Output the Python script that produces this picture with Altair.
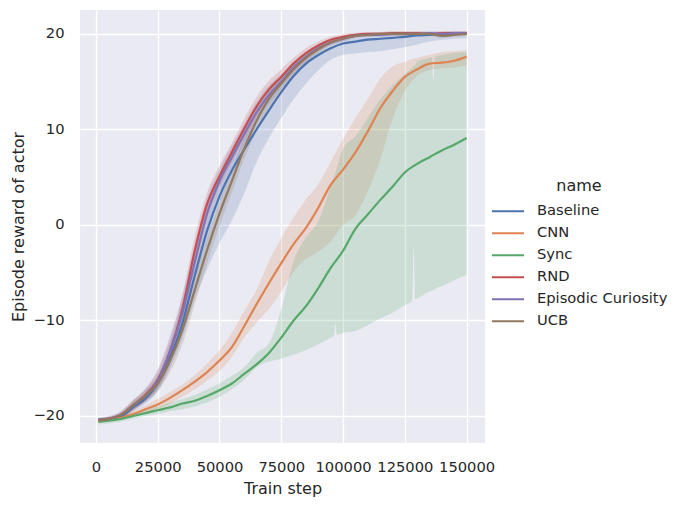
import altair as alt
import pandas as pd

names = ["Baseline", "CNN", "Sync", "RND", "Episodic Curiosity", "UCB"]
colors = ["#4c72b0", "#dd8452", "#55a868", "#c44e52", "#8172b3", "#937860"]

steps = [1000, 5000, 10000, 15000, 20000, 25000, 30000, 35000, 40000, 45000,
         50000, 55000, 60000, 65000, 70000, 75000, 80000, 85000, 90000, 95000,
         100000, 105000, 110000, 115000, 120000, 125000, 130000, 135000, 140000,
         145000, 150000]

baseline_mean = [-20.4, -20.35, -20.1, -19.1, -18.2, -16.6, -13.9, -10.3, -5.3, -0.6, 3.0,
                 5.7, 7.9, 10.0, 12.0, 13.9, 15.6, 16.9, 17.8, 18.5, 19.0, 19.2, 19.4,
                 19.5, 19.6, 19.7, 19.85, 19.9, 20.0, 20.0, 20.0]
baseline_lo = [-20.6, -20.5, -20.3, -19.5, -18.7, -17.4, -15.0, -11.8, -7.8, -4.6, -1.9,
               0.5, 3.3, 6.6, 9.1, 11.2, 13.2, 14.8, 16.2, 17.3, 17.8, 17.95, 18.1,
               18.2, 18.4, 18.6, 18.9, 19.2, 19.4, 19.5, 19.55]
baseline_hi = [-20.2, -20.1, -19.8, -18.6, -17.6, -15.8, -12.4, -8.0, -2.4, 2.0, 5.4,
               7.9, 10.2, 12.4, 14.2, 15.6, 17.0, 18.0, 18.8, 19.3, 19.6, 19.7, 19.8,
               19.9, 20.0, 20.0, 20.1, 20.1, 20.2, 20.2, 20.2]

cnn_mean = [-20.5, -20.4, -20.2, -19.8, -19.3, -18.8, -18.1, -17.3, -16.4, -15.4, -14.2,
            -12.8, -10.6, -8.3, -6.1, -4.0, -2.0, -0.3, 1.8, 4.2, 5.8, 7.6, 9.8,
            12.2, 14.0, 15.5, 16.3, 16.9, 17.0, 17.2, 17.6]
cnn_lo = [-20.7, -20.6, -20.4, -20.1, -19.7, -19.3, -18.7, -18.0, -17.2, -16.3, -15.3,
          -13.8, -11.8, -10.2, -8.8, -7.0, -4.9, -3.6, -2.8, -1.7, 0.0, 1.0, 3.5,
          6.8, 11.1, 14.0, 15.6, 16.2, 16.4, 16.5, 16.7]
cnn_hi = [-20.2, -20.1, -19.9, -19.4, -18.9, -18.2, -17.5, -16.7, -15.7, -14.5, -13.1,
          -11.3, -9.0, -6.8, -3.8, -1.4, 0.8, 2.7, 4.3, 6.6, 9.0, 11.2, 13.2,
          15.3, 16.6, 17.1, 17.5, 17.8, 18.1, 18.2, 18.3]

sync_mean = [-20.6, -20.5, -20.3, -20.0, -19.7, -19.4, -19.1, -18.7, -18.4, -17.9, -17.3,
             -16.6, -15.6, -14.6, -13.4, -11.8, -10.0, -8.5, -6.6, -4.5, -2.7, -0.4, 1.1,
             2.6, 4.0, 5.5, 6.4, 7.1, 7.8, 8.4, 9.1]
sync_band_steps = [1000, 5000, 10000, 15000, 20000, 25000, 30000, 35000, 40000, 45000,
                   50000, 55000, 60000, 65000, 70000, 75000, 80000, 85000, 90000, 95000,
                   96300, 96900, 97500, 100000, 105000, 110000, 115000, 120000, 125000,
                   128000, 128600, 129200, 130000, 135000, 136000, 136600, 137200,
                   140000, 145000, 150000]
sync_lo = [-20.9, -20.8, -20.6, -20.3, -20.0, -19.8, -19.5, -19.3, -19.0, -18.6,
           -18.0, -17.2, -16.2, -14.9, -14.3, -14.0, -13.6, -13.1, -12.5, -11.8,
           -11.6, -10.3, -11.5, -11.3, -11.1, -10.5, -9.8, -9.2, -8.4,
           -8.0, -2.3, -7.8, -7.7, -7.0, -6.9, -6.8, -6.7,
           -6.4, -5.8, -5.2]
sync_hi = [-20.3, -20.2, -20.0, -19.7, -19.3, -19.0, -18.6, -18.2, -17.8, -17.2,
           -16.6, -15.8, -14.9, -13.4, -12.4, -8.8, -3.8, -1.3, 0.4, 4.0,
           5.0, 5.5, 6.0, 8.0, 9.3, 11.2, 13.1, 14.6, 15.8,
           16.5, 16.6, 16.8, 17.1, 17.5, 17.6, 15.2, 17.6,
           17.8, 18.0, 18.1]

rnd_mean = [-20.4, -20.3, -19.9, -18.9, -17.8, -16.2, -13.2, -8.8, -2.7, 2.2, 5.1,
            7.6, 10.1, 12.4, 14.2, 15.5, 16.9, 18.0, 18.8, 19.4, 19.7, 19.9, 20.0,
            20.0, 20.1, 20.1, 20.1, 20.0, 20.1, 20.1, 20.1]
rnd_lo = [-20.6, -20.5, -20.2, -19.4, -18.4, -17.1, -14.5, -10.3, -4.2, 1.0, 4.0,
          6.6, 9.1, 11.4, 13.3, 14.7, 16.3, 17.5, 18.4, 19.1, 19.4, 19.7, 19.8,
          19.8, 19.9, 19.9, 19.9, 19.8, 19.9, 19.9, 19.9]
rnd_hi = [-20.2, -20.1, -19.6, -18.4, -17.2, -15.3, -11.9, -7.3, -1.2, 3.4, 6.2,
          8.6, 11.1, 13.4, 15.1, 16.3, 17.5, 18.5, 19.2, 19.7, 20.0, 20.1, 20.2,
          20.2, 20.3, 20.3, 20.3, 20.2, 20.3, 20.3, 20.3]

ec_mean = [-20.4, -20.3, -19.9, -18.9, -17.9, -16.3, -13.2, -9.2, -3.9, 1.2, 4.6,
           7.1, 9.5, 11.8, 13.6, 15.0, 16.5, 17.6, 18.5, 19.1, 19.5, 19.8, 19.9,
           19.9, 20.0, 20.0, 20.0, 20.1, 20.0, 20.1, 20.1]
ec_lo = [-20.6, -20.5, -20.2, -19.4, -18.5, -17.2, -14.6, -10.8, -5.6, -0.3, 3.4,
         6.0, 8.4, 10.8, 12.7, 14.3, 15.9, 17.1, 18.1, 18.8, 19.2, 19.6, 19.7,
         19.7, 19.8, 19.8, 19.8, 19.9, 19.8, 19.9, 19.9]
ec_hi = [-20.2, -20.0, -19.5, -18.3, -17.1, -15.1, -11.6, -7.4, -2.0, 2.8, 5.9,
         8.3, 10.6, 12.9, 14.6, 15.8, 17.1, 18.1, 18.9, 19.4, 19.8, 20.0, 20.1,
         20.1, 20.2, 20.2, 20.2, 20.3, 20.2, 20.3, 20.3]

ucb_mean = [-20.5, -20.3, -19.9, -18.9, -17.9, -16.6, -14.2, -11.0, -6.8, -2.6, 1.2,
            4.6, 8.0, 10.9, 13.2, 14.8, 16.3, 17.5, 18.4, 19.1, 19.5, 19.8, 19.9,
            20.0, 20.0, 20.0, 20.0, 20.0, 19.8, 19.9, 20.0]
ucb_lo = [-20.7, -20.5, -20.2, -19.4, -18.5, -17.4, -15.4, -12.5, -8.3, -4.0, -0.1,
          3.4, 6.9, 9.9, 12.3, 14.1, 15.7, 17.0, 18.0, 18.8, 19.2, 19.6, 19.7,
          19.8, 19.8, 19.8, 19.8, 19.8, 19.6, 19.7, 19.8]
ucb_hi = [-20.3, -20.1, -19.6, -18.4, -17.3, -15.8, -13.0, -9.5, -5.3, -1.2, 2.5,
          5.8, 9.1, 11.9, 14.1, 15.5, 16.9, 18.0, 18.8, 19.4, 19.8, 20.0, 20.1,
          20.2, 20.2, 20.2, 20.2, 20.2, 20.0, 20.1, 20.2]

x_ticks = [0, 25000, 50000, 75000, 100000, 125000, 150000]
y_ticks = [-20, -10, 0, 10, 20]

means = {"Baseline": baseline_mean, "CNN": cnn_mean, "Sync": sync_mean,
         "RND": rnd_mean, "Episodic Curiosity": ec_mean, "UCB": ucb_mean}
bands = {"Baseline": (steps, baseline_lo, baseline_hi),
         "CNN": (steps, cnn_lo, cnn_hi),
         "Sync": (sync_band_steps, sync_lo, sync_hi),
         "RND": (steps, rnd_lo, rnd_hi),
         "Episodic Curiosity": (steps, ec_lo, ec_hi),
         "UCB": (steps, ucb_lo, ucb_hi)}

line_rows = []
band_rows = []
for i, n in enumerate(names):
    for s, v in zip(steps, means[n]):
        line_rows.append({"name": n, "order": i, "step": s, "reward": v})
    bs, lo, hi = bands[n]
    for s, a, b in zip(bs, lo, hi):
        band_rows.append({"name": n, "order": i, "step": s, "lo": a, "hi": b})
lines_df = pd.DataFrame(line_rows)
bands_df = pd.DataFrame(band_rows)

FONT = "DejaVu Sans"
TXT = "#262626"

color_scale = alt.Scale(domain=names, range=colors)
x_enc = alt.X("step:Q",
              scale=alt.Scale(domain=[-6450, 157450], nice=False, zero=False),
              axis=alt.Axis(values=x_ticks, format="d", title="Train step",
                            labelPadding=16, titleY=50, titleBaseline="alphabetic"))
y_scale = alt.Scale(domain=[-22.83, 22.51], nice=False, zero=False)
y_axis = alt.Axis(values=y_ticks, title="Episode reward of actor",
                  labelExpr="replace(format(datum.value, 'd'), '-', '\u2212')",
                  labelPadding=16, titleX=-62, titleY=216.5, titleBaseline="middle",
                  titleAlign="center", titleAngle=270)

band = alt.Chart(bands_df).mark_area(opacity=0.2, interpolate="monotone").encode(
    x=x_enc,
    y=alt.Y("lo:Q", scale=y_scale, axis=y_axis),
    y2="hi:Q",
    color=alt.Color("name:N", scale=color_scale, legend=None),
    detail="name:N",
    order="order:Q",
)

line = alt.Chart(lines_df).mark_line(strokeWidth=2.2, interpolate="monotone").encode(
    x=alt.X("step:Q"),
    y=alt.Y("reward:Q"),
    color=alt.Color("name:N", scale=color_scale,
                    legend=alt.Legend(title="name", orient="none", legendX=411, legendY=168,
                                      symbolType="stroke", symbolSize=1024,
                                      symbolStrokeWidth=2, labelOffset=12,
                                      titleAnchor="middle", titlePadding=6.4,
                                      clipHeight=21.8, rowPadding=0, padding=0)),
    detail="name:N",
)

chart = alt.layer(band, line).resolve_legend(color="independent").properties(
    width=405, height=433,
    padding={"left": 72, "top": 2, "right": 191, "bottom": 56},
    autosize=alt.AutoSizeParams(type="none"),
).configure_view(
    fill="#EAEAF2", stroke=None
).configure_axis(
    grid=True, gridColor="white", gridWidth=1.3, domain=False, ticks=False,
    labelFont=FONT, labelFontSize=14.7, labelColor=TXT,
    titleFont=FONT, titleFontSize=16, titleColor=TXT, titleFontWeight="normal",
).configure_legend(
    labelFont=FONT, labelFontSize=14.7, labelColor=TXT,
    titleFont=FONT, titleFontSize=16, titleColor=TXT, titleFontWeight="normal",
)

chart.save("out.html", embed_options={"renderer": "svg", "actions": False})
